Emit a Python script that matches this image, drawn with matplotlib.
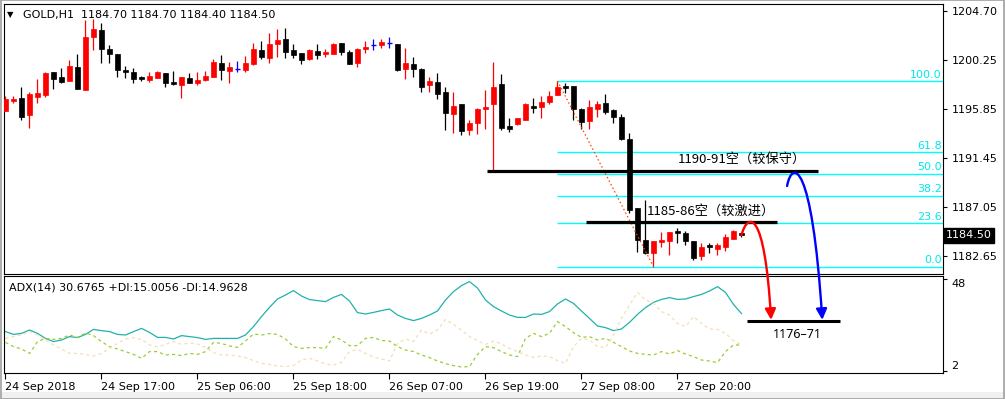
import numpy as np
import matplotlib
matplotlib.use('Agg')
import matplotlib.pyplot as plt
from matplotlib.path import Path
from matplotlib.patches import FancyArrowPatch, Rectangle
import matplotlib.transforms as mtransforms

# ---------------- data ----------------
opens = [1195.73, 1196.63, 1196.87, 1195.34, 1196.99, 1197.14, 1199.21, 1198.76, 1198.43, 1199.66,
         1197.59, 1202.39, 1202.99, 1201.28, 1200.83, 1199.39, 1199.21, 1198.76, 1198.49, 1198.67,
         1199.12, 1198.34, 1198.07, 1198.67, 1198.25, 1198.49, 1198.76, 1200.02, 1199.33, 1199.48,
         1199.39, 1199.93, 1201.19, 1200.47, 1201.76, 1202.18, 1201.19, 1200.92, 1200.38, 1201.10,
         1200.86, 1200.86, 1201.82, 1201.01, 1200.05, 1201.28, 1201.64, 1201.67, 1201.82, 1201.73,
         1199.48, 1199.93, 1199.48, 1198.04, 1198.31, 1197.41, 1195.43, 1196.33, 1193.99, 1194.62,
         1195.88, 1196.36, 1198.13, 1194.35, 1194.53, 1194.89, 1196.15, 1196.06, 1196.51, 1197.14,
         1197.95, 1197.95, 1195.88, 1194.80, 1195.88, 1196.42, 1195.79, 1195.16, 1193.18, 1187.00,
         1184.09, 1182.95, 1183.88, 1183.97, 1184.90, 1184.72, 1184.00, 1182.65, 1183.64, 1183.28,
         1183.49, 1184.18, 1184.70]
highs = [1197.05, 1197.05, 1197.86, 1197.44, 1198.58, 1199.24, 1199.21, 1199.57, 1200.29, 1200.83,
         1203.89, 1203.98, 1203.65, 1201.64, 1200.83, 1199.75, 1199.57, 1198.85, 1199.21, 1199.30,
         1199.12, 1199.30, 1198.76, 1199.12, 1199.24, 1199.30, 1200.38, 1200.74, 1200.11, 1200.20,
         1200.65, 1201.82, 1202.00, 1202.72, 1203.08, 1203.17, 1201.73, 1200.92, 1201.28, 1201.73,
         1201.28, 1201.82, 1201.82, 1201.19, 1201.37, 1202.00, 1202.18, 1202.18, 1202.36, 1201.73,
         1201.37, 1200.56, 1199.57, 1198.76, 1199.12, 1197.83, 1197.41, 1196.33, 1194.89, 1195.97,
         1197.59, 1200.11, 1199.03, 1195.07, 1195.07, 1196.42, 1196.87, 1197.05, 1197.50, 1198.40,
         1198.22, 1197.95, 1195.97, 1196.69, 1196.60, 1197.23, 1195.88, 1195.43, 1193.72, 1187.00,
         1187.69, 1184.00, 1184.84, 1184.81, 1185.17, 1184.93, 1184.00, 1183.85, 1183.85, 1183.85,
         1184.63, 1184.99, 1184.70]
lows = [1195.70, 1196.42, 1194.89, 1194.20, 1196.45, 1196.99, 1197.71, 1198.22, 1198.43, 1197.71,
        1197.59, 1201.19, 1200.05, 1200.05, 1198.79, 1198.67, 1198.22, 1198.40, 1198.31, 1198.67,
        1197.86, 1198.07, 1196.90, 1198.22, 1198.07, 1198.40, 1198.76, 1198.49, 1198.22, 1199.21,
        1199.21, 1199.84, 1200.38, 1200.02, 1200.59, 1200.47, 1200.47, 1199.93, 1200.29, 1200.38,
        1200.59, 1200.86, 1200.74, 1199.96, 1199.69, 1200.95, 1201.22, 1201.40, 1201.40, 1199.30,
        1198.58, 1198.79, 1197.44, 1197.44, 1196.75, 1193.99, 1193.72, 1193.54, 1193.54, 1193.63,
        1194.08, 1190.35, 1193.99, 1193.84, 1194.44, 1194.89, 1195.52, 1195.07, 1196.33, 1197.14,
        1197.32, 1194.89, 1194.08, 1194.08, 1195.16, 1195.43, 1194.62, 1193.09, 1186.52, 1183.04,
        1182.83, 1181.69, 1183.49, 1182.74, 1183.79, 1183.64, 1182.29, 1182.29, 1182.95, 1182.74,
        1183.13, 1184.18, 1184.40]
closes = [1196.78, 1196.81, 1195.19, 1197.23, 1197.32, 1199.15, 1198.61, 1198.34, 1199.75, 1197.71,
          1202.36, 1203.08, 1201.31, 1200.86, 1199.39, 1199.21, 1198.58, 1198.58, 1198.85, 1199.21,
          1198.22, 1198.16, 1198.76, 1198.22, 1198.49, 1198.85, 1200.11, 1199.39, 1199.66, 1199.48,
          1200.02, 1201.28, 1200.59, 1201.76, 1202.09, 1201.04, 1200.77, 1200.32, 1201.19, 1200.77,
          1201.01, 1201.73, 1201.04, 1199.96, 1201.28, 1201.46, 1201.64, 1201.91, 1201.82, 1199.39,
          1200.05, 1199.51, 1197.89, 1198.43, 1197.26, 1195.52, 1196.15, 1193.93, 1194.62, 1195.88,
          1196.06, 1197.86, 1194.17, 1194.11, 1195.07, 1196.33, 1195.97, 1196.51, 1197.05, 1197.86,
          1197.77, 1195.88, 1194.71, 1196.06, 1196.33, 1195.61, 1195.16, 1193.18, 1186.79, 1184.09,
          1182.92, 1184.00, 1184.09, 1184.81, 1184.72, 1184.00, 1182.50, 1183.49, 1183.49, 1183.64,
          1184.39, 1184.93, 1184.50]

adx = [21.7, 20.3, 20.8, 22.5, 20.8, 18.3, 16.7, 17.5, 19.2, 18.7, 20.3, 22.8, 22.2, 21.7, 20.3, 20.0,
       21.7, 23.3, 21.3, 18.8, 18.8, 18.0, 19.7, 19.2,
       18.7, 17.8, 18.3, 18.3, 18.3, 18.3, 20.0, 24.2, 29.2, 33.8, 38.0, 40.0, 42.2, 39.5, 37.7, 37.2,
       36.7, 38.8, 40.3, 37.0, 31.2, 30.5,
       31.3, 32.2, 33.0, 30.0, 28.3, 27.2, 28.3, 30.0, 32.0, 37.5, 41.7, 44.7, 46.7, 43.5, 37.5, 34.2,
       32.0, 30.0, 28.8, 28.8, 30.5, 30.3, 31.7,
       35.5, 38.0, 35.8, 32.0, 28.3, 24.5, 23.7, 22.2, 23.0, 26.3, 30.3, 33.7, 36.3, 37.8, 38.7, 37.8,
       38.0, 39.2, 40.3, 42.0, 44.2, 41.3, 35.3, 30.7]
plus_di = [16.3, 14.2, 13.0, 10.8, 16.7, 18.3, 17.8, 18.3, 20.0, 18.8, 21.0, 19.7, 16.7, 14.2, 13.0, 11.7,
           10.3, 8.3, 11.7, 11.7, 10.0, 10.3, 9.7, 10.8,
           10.3, 11.7, 16.3, 15.8, 14.5, 13.8, 17.0, 20.5, 20.0, 20.7, 20.3, 18.0, 14.2, 13.3, 13.7, 13.7,
           13.3, 19.2, 17.5, 14.7, 14.7, 18.3,
           18.8, 17.2, 17.0, 14.2, 12.5, 11.7, 10.0, 8.7, 7.0, 5.7, 4.7, 4.0, 4.2, 10.3, 14.2, 13.7,
           11.7, 10.0, 9.2, 18.3, 20.8, 19.2, 20.8,
           26.7, 24.2, 21.2, 18.8, 19.2, 17.5, 18.3, 16.3, 14.2, 12.0, 10.8, 10.3, 10.0, 11.7, 10.5, 12.2,
           10.5, 9.2, 7.5, 7.0, 6.2, 11.7, 15.0, 15.0]
minus_di = [18.3, 19.2, 20.0, 21.7, 20.0, 17.5, 15.0, 13.0, 10.8, 10.8, 10.3, 9.5, 10.8, 13.3, 15.8, 18.0,
            18.7, 17.8, 15.0, 14.2, 15.3, 16.7, 15.3, 16.0,
            15.5, 13.8, 11.2, 10.0, 10.0, 9.5, 8.7, 7.2, 5.8, 5.3, 4.5, 4.2, 4.7, 7.5, 8.3, 7.0,
            5.5, 5.0, 6.3, 11.7, 12.8, 10.8,
            9.0, 8.0, 7.0, 15.8, 18.0, 16.7, 22.5, 20.5, 22.5, 27.8, 25.3, 22.5, 19.2, 17.2, 15.3, 17.0,
            15.5, 13.3, 11.7, 10.0, 8.8, 9.5, 9.2,
            7.2, 5.8, 14.2, 18.3, 17.5, 14.2, 13.7, 20.0, 28.3, 35.0, 41.3, 37.5, 35.8, 31.7, 30.0, 25.8,
            24.2, 29.2, 25.8, 23.0, 22.8, 20.8, 17.2, 15.0]

price_ticks = [1204.70, 1200.25, 1195.85, 1191.45, 1187.05, 1182.65]
price_tick_labels = ["1204.70", "1200.25", "1195.85", "1191.45", "1187.05", "1182.65"]
time_tick_idx = [0, 12, 24, 36, 48, 60, 72, 84]
time_tick_labels = ["24 Sep 2018", "24 Sep 17:00", "25 Sep 06:00", "25 Sep 18:00",
                    "26 Sep 07:00", "26 Sep 19:00", "27 Sep 08:00", "27 Sep 20:00"]
adx_ticks = [48, 2]

fib_high = 1198.40
fib_low = 1181.69
fib_start_idx = 69
fib_end_idx = 81
fib_levels = [0.0, 23.6, 38.2, 50.0, 61.8, 100.0]

zone_conservative = 1190.30
zone_aggressive = 1185.68
target_level = 1176.80

header_text = "GOLD,H1  1184.70 1184.70 1184.40 1184.50"
adx_text = "ADX(14) 30.6765 +DI:15.0056 -DI:14.9628"

# ---------------- figure ----------------
W, H = 1005, 399
fig = plt.figure(figsize=(W / 100, H / 100), dpi=100)
fig.patch.set_facecolor('white')


def fx(px):
    return px / W


def fy(py):
    return 1 - py / H


axa = fig.add_axes([fx(4), fy(373), fx(939), 97 / H])
ax = fig.add_axes([fx(4), fy(274), fx(939), 270 / H])
ax.set_zorder(2)
axa.set_zorder(1)
ax.patch.set_facecolor('white')
axa.patch.set_facecolor('white')

for a in (ax, axa):
    for s in a.spines.values():
        s.set_linewidth(0.8)
        s.set_color('black')

o = np.array(opens); h = np.array(highs); l = np.array(lows); c = np.array(closes)
idx = np.arange(len(o))
up = c > o
dn = c < o
dj = c == o
cols = np.where(up, '#FF0000', np.where(dn, '#000000', '#0000FF'))

ax.vlines(idx, l, h, colors=cols, lw=0.9, zorder=3)
nb = ~dj
ax.bar(idx[nb], np.abs(c - o)[nb], bottom=np.minimum(o, c)[nb], width=0.56,
       color=cols[nb], edgecolor=cols[nb], linewidth=0.5, zorder=4)
ax.hlines(o[dj], idx[dj] - 0.32, idx[dj] + 0.32, colors='#0000FF', lw=1.0, zorder=4)

ax.set_xlim(-0.1875, 117.19)
ax.set_ylim(1181.03, 1205.33)
ax.set_xticks([])
ax.yaxis.tick_right()
ax.set_yticks(price_ticks)
ax.set_yticklabels(price_tick_labels)
ax.tick_params(axis='y', direction='out', length=3, width=0.8, pad=3, labelsize=8, colors='black')

# Fibonacci
xmax = ax.get_xlim()[1]
bl = mtransforms.blended_transform_factory(ax.transAxes, ax.transData)
for lv in fib_levels:
    p = fib_low + (fib_high - fib_low) * lv / 100.0
    ax.hlines(p, fib_start_idx, xmax, colors='#00FFFF', lw=1.0, zorder=2)
    ax.text(0.9985, p + 0.12, f"{lv:.1f}", transform=bl,
            ha='right', va='bottom', fontsize=8, color='#00E8E8', zorder=5)
ax.plot([fib_start_idx, fib_end_idx], [fib_high, fib_low], color='#FF4500', lw=0.9,
        ls=(0, (1.2, 2.0)), zorder=5)

# zone lines
ax.hlines(zone_conservative, 60.2, 101.6, colors='black', lw=2.3, zorder=6)
ax.hlines(zone_aggressive, 72.6, 96.4, colors='black', lw=2.3, zorder=6)
cjk = ['Noto Sans CJK SC', 'DejaVu Sans']
ax.text(84.06, 1191.38, "1190-91空（较保守）", family=cjk, fontsize=9.5, ha='left', va='center', zorder=7)
ax.text(80.19, 1186.64, "1185-86空（较激进）", family=cjk, fontsize=9.5, ha='left', va='center', zorder=7)

# curved arrows (continue below the price panel)
red_path = Path([(92.0, 1184.54), (92.8, 1186.61), (94.9, 1186.97), (95.7, 1176.90)],
                [Path.MOVETO, Path.CURVE4, Path.CURVE4, Path.CURVE4])
blue_path = Path([(97.7, 1188.95), (98.3, 1191.29), (100.8, 1191.47), (102.1, 1176.90)],
                 [Path.MOVETO, Path.CURVE4, Path.CURVE4, Path.CURVE4])
for pth, col in ((red_path, '#FF0000'), (blue_path, '#0000FF')):
    arr = FancyArrowPatch(path=pth, arrowstyle='-|>', mutation_scale=16, color=col, lw=1.7,
                          transform=ax.transData, zorder=10)
    ax.add_patch(arr)
    arr.set_clip_on(False)

tl = ax.hlines(target_level, 92.69, 104.31, colors='black', lw=2.2, zorder=9)
tl.set_clip_on(False)
tt = ax.text(98.94, 1175.54, "1176–71", family=['Noto Sans', 'DejaVu Sans'], fontsize=9,
             ha='center', va='center', zorder=9)
tt.set_clip_on(False)

# current price box
ax.text(1.003, closes[-1], f"{closes[-1]:.2f}", transform=bl,
        ha='left', va='center', fontsize=8, color='white',
        bbox=dict(boxstyle='square,pad=0.2', facecolor='black', edgecolor='black'), clip_on=False, zorder=12)

# ADX panel
axa.plot(idx, adx, color='#20B2AA', lw=0.9)
axa.plot(idx, plus_di, color='#9ACD32', lw=0.9, ls=(0, (2.5, 2.5)))
axa.plot(idx, minus_di, color='#F5DEB3', lw=0.9, ls=(0, (2.5, 2.5)))
axa.set_xlim(ax.get_xlim())
axa.set_ylim(1.0, 49.5)
axa.yaxis.tick_right()
axa.set_yticks(adx_ticks)
axa.set_yticklabels([str(t) for t in adx_ticks])
axa.tick_params(axis='y', direction='out', length=3, width=0.8, pad=3, labelsize=8)
ylabs = axa.get_yticklabels()
ylabs[0].set_va('top')
ylabs[1].set_va('bottom')
axa.set_xticks(time_tick_idx)
axa.set_xticklabels(time_tick_labels)
axa.tick_params(axis='x', direction='out', length=4, width=0.8, pad=2.5, labelsize=8)
for t in axa.get_xticklabels():
    t.set_ha('left')

# header texts
fig.text(fx(7), fy(15), "▼", fontsize=6, ha='left', va='center')
fig.text(fx(23), fy(15), header_text, fontsize=8, ha='left', va='center')
fig.text(fx(9), fy(287), adx_text, fontsize=8, ha='left', va='center')

# window frame
fig.patches.append(Rectangle((0, 0), 1, 7 / H, transform=fig.transFigure, facecolor='#F0F0F0',
                             edgecolor='none', zorder=0))
fig.patches.append(Rectangle((0.0005, 0.001), 0.999, 0.998, transform=fig.transFigure, fill=False,
                             edgecolor='#A0A0A0', lw=1.2, zorder=1))

fig.savefig('out.png', dpi=100, facecolor=fig.get_facecolor())
